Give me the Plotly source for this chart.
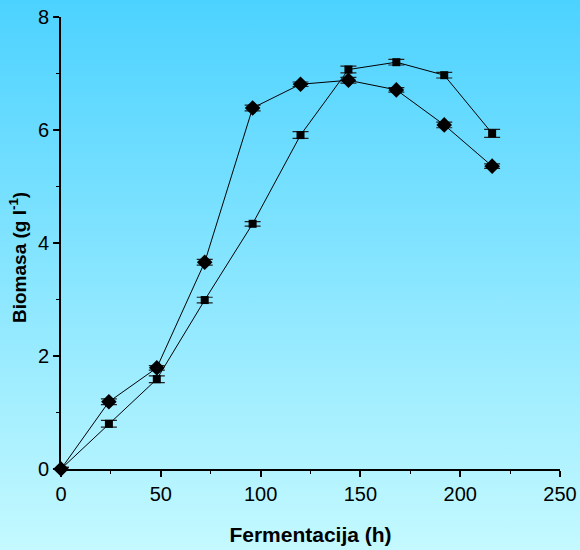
import base64
import plotly.graph_objects as go

hours = [0, 24, 48, 72, 96, 120, 144, 168, 192, 216]
biomass_square = [0, 0.80, 1.59, 2.99, 4.34, 5.91, 7.07, 7.20, 6.97, 5.94]
err_square = [0.03, 0.06, 0.06, 0.05, 0.04, 0.06, 0.06, 0.05, 0.05, 0.07]
biomass_diamond = [0, 1.19, 1.79, 3.66, 6.39, 6.81, 6.88, 6.71, 6.09, 5.36]
err_diamond = [0.03, 0.05, 0.04, 0.05, 0.05, 0.04, 0.05, 0.04, 0.05, 0.04]
y_title = "<b>Biomasa (g l<sup>-1</sup>)</b>"
x_title = "<b>Fermentacija (h)</b>"

svg = ('<svg xmlns="http://www.w3.org/2000/svg" width="100" height="100" preserveAspectRatio="none">'
       '<defs><linearGradient id="g" x1="0" y1="0" x2="0" y2="1">'
       '<stop offset="0" stop-color="#4cd2ff"/><stop offset="1" stop-color="#c4f9ff"/>'
       '</linearGradient></defs><rect width="100" height="100" fill="url(#g)"/></svg>')
bg_src = "data:image/svg+xml;base64," + base64.b64encode(svg.encode()).decode()

fig = go.Figure()
fig.add_trace(go.Scatter(
    x=hours, y=biomass_square, mode="lines+markers",
    line=dict(color="black", width=1),
    marker=dict(symbol="square", size=8, color="black"),
    error_y=dict(type="data", array=err_square, visible=True, color="#222", thickness=1.2, width=8),
    cliponaxis=False, showlegend=False))
fig.add_trace(go.Scatter(
    x=hours, y=biomass_diamond, mode="lines+markers",
    line=dict(color="black", width=1),
    marker=dict(symbol="diamond", size=12, color="black"),
    error_y=dict(type="data", array=err_diamond, visible=True, color="#222", thickness=1.2, width=8),
    cliponaxis=False, showlegend=False))

fig.update_layout(
    width=580, height=550, autosize=False,
    margin=dict(l=61, r=20, t=17, b=81, autoexpand=False),
    paper_bgcolor="rgba(0,0,0,0)",
    plot_bgcolor="rgba(0,0,0,0)",
    font=dict(family="Liberation Sans, Arial", color="black"),
    images=[dict(source=bg_src, xref="paper", yref="paper",
                 x=-61/499, y=1 + 17/452, sizex=580/499, sizey=550/452,
                 xanchor="left", yanchor="top", sizing="stretch", layer="below")],
    annotations=[dict(text=y_title, textangle=-90, xref="paper", yref="paper",
                      x=-43/499, y=(469-258)/452, xanchor="center", yanchor="middle",
                      showarrow=False, font=dict(size=19))],
)
fig.update_xaxes(
    range=[0, 250], tickvals=[0, 50, 100, 150, 200, 250], automargin=False,
    showgrid=False, zeroline=False, showline=True, linecolor="black", linewidth=2,
    ticks="outside", ticklen=6, tickwidth=1.5, tickcolor="black",
    minor=dict(ticks="outside", ticklen=3, dtick=25, tickcolor="black", tickwidth=1),
    tickfont=dict(size=20),
    title=dict(text=x_title, font=dict(size=21), standoff=23),
)
fig.update_yaxes(
    range=[0, 8], tickvals=[0, 2, 4, 6, 8], automargin=False,
    showgrid=False, zeroline=False, showline=True, linecolor="black", linewidth=2,
    ticks="outside", ticklen=6, tickwidth=1.5, tickcolor="black",
    minor=dict(ticks="outside", ticklen=3, dtick=1, tickcolor="black", tickwidth=1),
    tickfont=dict(size=20),
)
fig.write_html("out.html")
